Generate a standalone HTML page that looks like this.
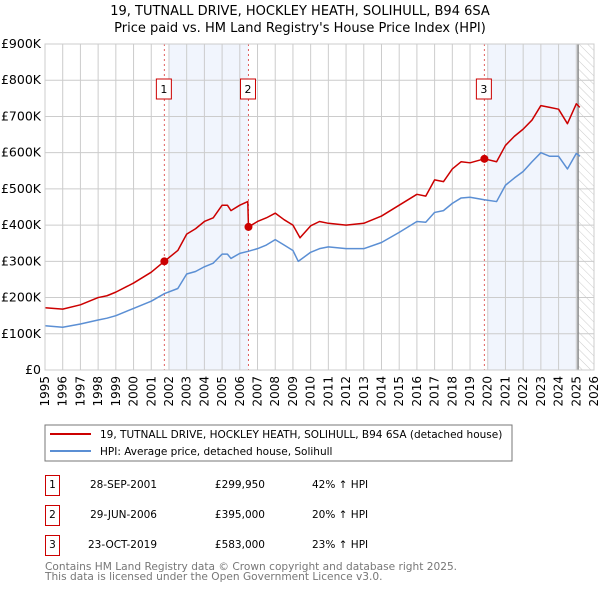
<!DOCTYPE html>
<html><head><meta charset="utf-8"><style>
body{margin:0;background:#fff;font-family:"DejaVu Sans","Liberation Sans",sans-serif;}
svg{display:block}
</style></head><body>
<svg id="c" width="600" height="590">
<defs><pattern id="hatch" width="6" height="6" patternUnits="userSpaceOnUse" patternTransform="rotate(-45)"><line x1="0" y1="0" x2="0" y2="6" stroke="#ccc" stroke-width="1"/></pattern></defs>
<text x="300" y="15" text-anchor="middle" font-size="13">19, TUTNALL DRIVE, HOCKLEY HEATH, SOLIHULL, B94 6SA</text>
<text x="300" y="32" text-anchor="middle" font-size="13">Price paid vs. HM Land Registry's House Price Index (HPI)</text>
<g id="plot"></g>
<rect x="45" y="425" width="467" height="36" fill="#fff" stroke="#777"/>
<line x1="50" y1="434" x2="91" y2="434" stroke="#cc0000" stroke-width="2"/>
<text x="100" y="438" font-size="10.5">19, TUTNALL DRIVE, HOCKLEY HEATH, SOLIHULL, B94 6SA (detached house)</text>
<line x1="50" y1="451" x2="91" y2="451" stroke="#5b8fd4" stroke-width="2"/>
<text x="100" y="455" font-size="10.5">HPI: Average price, detached house, Solihull</text>
<g font-size="10.5">
<rect x="45.5" y="475.5" width="14" height="20" fill="#fff" stroke="#cc0000"/><text x="52.5" y="488" text-anchor="middle">1</text>
<text x="157" y="488" text-anchor="end">28-SEP-2001</text><text x="265" y="488" text-anchor="end">£299,950</text><text x="312" y="488">42% ↑ HPI</text>
<rect x="45.5" y="505.5" width="14" height="20" fill="#fff" stroke="#cc0000"/><text x="52.5" y="518" text-anchor="middle">2</text>
<text x="157" y="518" text-anchor="end">29-JUN-2006</text><text x="265" y="518" text-anchor="end">£395,000</text><text x="312" y="518">20% ↑ HPI</text>
<rect x="45.5" y="535.5" width="14" height="20" fill="#fff" stroke="#cc0000"/><text x="52.5" y="548" text-anchor="middle">3</text>
<text x="157" y="548" text-anchor="end">23-OCT-2019</text><text x="265" y="548" text-anchor="end">£583,000</text><text x="312" y="548">23% ↑ HPI</text>
</g>
<text x="45" y="570" font-size="10.6" fill="#777">Contains HM Land Registry data © Crown copyright and database right 2025.</text>
<text x="45" y="580" font-size="10.6" fill="#777">This data is licensed under the Open Government Licence v3.0.</text>
</svg>
<script>
const hpiYears=[1995,1996,1997,1998,1998.5,1999,2000,2001,2001.75,2002.5,2003,2003.5,2004,2004.5,2005,2005.3,2005.5,2006,2006.5,2007,2007.5,2008,2008.5,2009,2009.3,2010,2010.5,2011,2012,2013,2014,2015,2016,2016.5,2017,2017.5,2018,2018.5,2019,2019.8,2020.5,2021,2021.5,2022,2022.5,2023,2023.5,2024,2024.5,2025,2025.2];
const hpiValues=[122,118,127,138,143,150,170,190,211,225,265,272,285,295,320,320,308,322,328,335,345,360,345,330,300,325,335,340,335,335,352,380,410,408,435,440,460,475,477,470,465,510,530,548,575,600,590,590,555,598,590];
const priceYears=[1995,1996,1997,1998,1998.5,1999,2000,2001,2001.74,2002.5,2003,2003.5,2004,2004.5,2005,2005.3,2005.5,2006,2006.45,2006.49,2007,2007.5,2008,2008.5,2009,2009.4,2010,2010.5,2011,2012,2013,2014,2015,2016,2016.5,2017,2017.5,2018,2018.5,2019,2019.81,2020.5,2021,2021.5,2022,2022.5,2023,2023.5,2024,2024.5,2025,2025.2];
const priceValues=[172,168,180,200,205,215,240,270,300,330,375,390,410,420,455,455,440,455,465,395,410,420,433,415,400,365,398,410,405,400,405,425,455,485,480,525,520,555,575,572,583,575,620,645,665,690,730,725,720,680,735,725];
const saleYears=[2001.74,2006.49,2019.81];
const saleValues=[299.95,395,583];
const saleLabels=["1","2","3"];
const yTicks=[0,100,200,300,400,500,600,700,800,900];
const yTickLabels=["£0","£100K","£200K","£300K","£400K","£500K","£600K","£700K","£800K","£900K"];
const xTicks=[1995,1996,1997,1998,1999,2000,2001,2002,2003,2004,2005,2006,2007,2008,2009,2010,2011,2012,2013,2014,2015,2016,2017,2018,2019,2020,2021,2022,2023,2024,2025,2026];
const X0=45,X1=594,Y0=370,Y1=44;
const xs=y=>X0+(y-1995)/31*(X1-X0);
const ys=v=>Y0-v/900*(Y0-Y1);
const NS="http://www.w3.org/2000/svg";
const g=document.getElementById('plot');
function mk(t,a){const e=document.createElementNS(NS,t);for(const k in a)e.setAttribute(k,a[k]);g.appendChild(e);return e;}
let e;
e=mk('rect',{x:xs(2002),y:Y1,width:xs(2006.49)-xs(2002),height:Y0-Y1,fill:'#eef3fc',opacity:0.8});


e=mk('rect',{x:xs(2020),y:Y1,width:xs(2025.1)-xs(2020),height:Y0-Y1,fill:'#eef3fc',opacity:0.8});


e=mk('rect',{x:xs(2025.1),y:Y1,width:X1-xs(2025.1),height:Y0-Y1,fill:'url(#hatch)'});


xTicks.forEach(t=>{
 e=mk('line',{x1:xs(t),x2:xs(t),y1:Y1,y2:Y0,stroke:'#ccc'});
 
 
 e=mk('text',{x:0,y:0,'font-size':12,'text-anchor':'end',transform:`translate(${xs(t)+4},${Y0+6}) rotate(-90)`});
 e.textContent=t;
 
 
});
yTicks.forEach((t,i)=>{
 e=mk('line',{x1:X0,x2:X1,y1:ys(t),y2:ys(t),stroke:'#ccc'});
 
 
 e=mk('text',{x:X0-4,y:ys(t)+4,'font-size':12.5,'text-anchor':'end'});
 e.textContent=yTickLabels[i];
 
 
});
e=mk('line',{x1:xs(2025.1),x2:xs(2025.1),y1:Y1,y2:Y0,stroke:'#888','stroke-width':1.5});


saleYears.forEach((y,i)=>{
 e=mk('line',{x1:xs(y),x2:xs(y),y1:Y1,y2:Y0,stroke:'#e06060','stroke-dasharray':'2,3'});
 
 
});
function line(xa,va,col,name){
 e=mk('polyline',{points:xa.map((x,i)=>xs(x)+','+ys(va[i])).join(' '),fill:'none',stroke:col,'stroke-width':1.5,'stroke-linejoin':'round'});
 
 
}
line(hpiYears,hpiValues,'#5b8fd4','hpi-line');
line(priceYears,priceValues,'#cc0000','price-line');
saleYears.forEach((y,i)=>{
 e=mk('circle',{cx:xs(y),cy:ys(saleValues[i]),r:4,fill:'#cc0000'});
 
 
 e=mk('rect',{x:xs(y)-8,y:79,width:15,height:20,fill:'#fff',stroke:'#cc0000'});
 
 
 e=mk('text',{x:xs(y)-0.5,y:93,'font-size':11,'text-anchor':'middle'});
 e.textContent=saleLabels[i];
 
 
});
e=mk('rect',{x:X0,y:Y1,width:X1-X0,height:Y0-Y1,fill:'none',stroke:'#ccc'});


</script>
</body></html>
